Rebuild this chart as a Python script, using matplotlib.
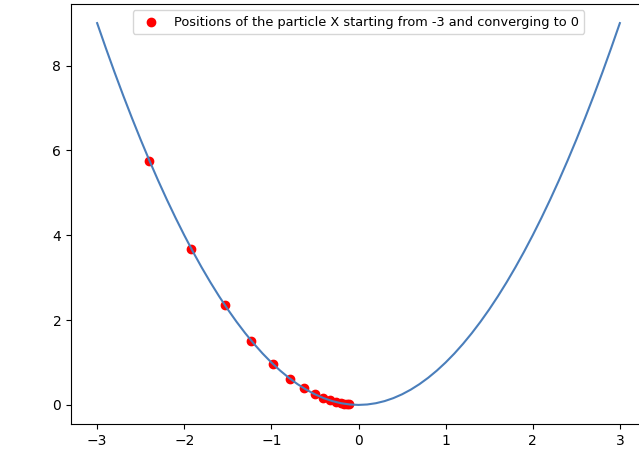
import matplotlib.pyplot as plt

# curve y = x^2, values (step 0.1)
curve_x = [-3.0, -2.9, -2.8, -2.7, -2.6, -2.5, -2.4, -2.3, -2.2, -2.1, -2.0,
           -1.9, -1.8, -1.7, -1.6, -1.5, -1.4, -1.3, -1.2, -1.1, -1.0,
           -0.9, -0.8, -0.7, -0.6, -0.5, -0.4, -0.3, -0.2, -0.1, 0.0,
           0.1, 0.2, 0.3, 0.4, 0.5, 0.6, 0.7, 0.8, 0.9, 1.0,
           1.1, 1.2, 1.3, 1.4, 1.5, 1.6, 1.7, 1.8, 1.9, 2.0,
           2.1, 2.2, 2.3, 2.4, 2.5, 2.6, 2.7, 2.8, 2.9, 3.0]
curve_y = [9.0, 8.41, 7.84, 7.29, 6.76, 6.25, 5.76, 5.29, 4.84, 4.41, 4.0,
           3.61, 3.24, 2.89, 2.56, 2.25, 1.96, 1.69, 1.44, 1.21, 1.0,
           0.81, 0.64, 0.49, 0.36, 0.25, 0.16, 0.09, 0.04, 0.01, 0.0,
           0.01, 0.04, 0.09, 0.16, 0.25, 0.36, 0.49, 0.64, 0.81, 1.0,
           1.21, 1.44, 1.69, 1.96, 2.25, 2.56, 2.89, 3.24, 3.61, 4.0,
           4.41, 4.84, 5.29, 5.76, 6.25, 6.76, 7.29, 7.84, 8.41, 9.0]

# particle positions
pos_x = [-2.4, -1.92, -1.536, -1.229, -0.983, -0.786, -0.629, -0.503, -0.403,
         -0.322, -0.258, -0.206, -0.165, -0.132, -0.106]
pos_y = [5.76, 3.686, 2.359, 1.510, 0.966, 0.618, 0.396, 0.253, 0.162,
         0.104, 0.066, 0.042, 0.027, 0.017, 0.011]

fig = plt.figure(figsize=(6.39, 4.5), dpi=100)
ax = fig.add_axes([71 / 639, 1 - 424 / 450, (646 - 71) / 639, 420 / 450])

ax.plot(curve_x, curve_y, color='#4a7ebb', linewidth=1.5)
ax.scatter(pos_x, pos_y, color='red',
           label='Positions of the particle X starting from -3 and converging to 0')

ax.legend(loc='upper center', fontsize=9.3)

plt.savefig('out.png')
